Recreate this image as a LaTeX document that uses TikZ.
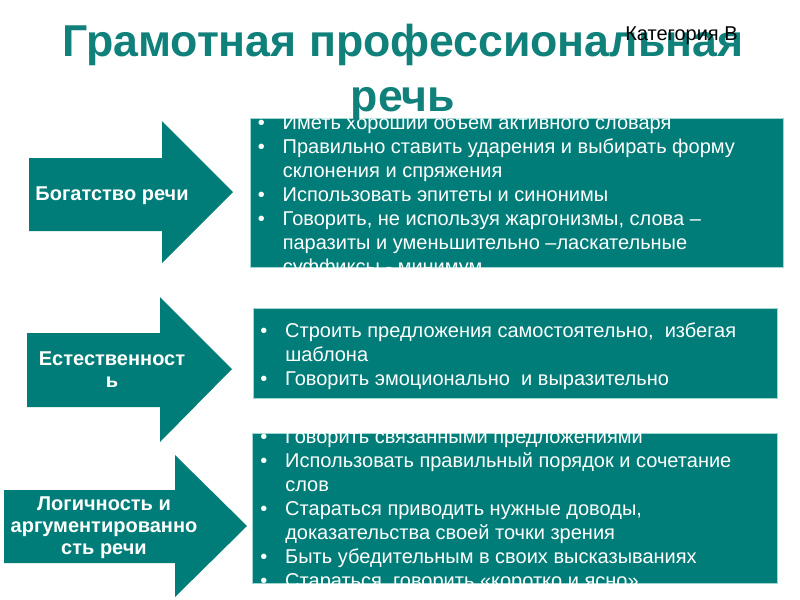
\documentclass[tikz,border=0pt]{standalone}
\usepackage{fontspec}
\setmainfont{Liberation Sans}
\usepackage{tikz}

\definecolor{tealfill}{RGB}{0,125,120}
\definecolor{tealtitle}{RGB}{16,128,122}
\definecolor{tealedge}{RGB}{160,214,210}

\newcommand{\bul}{\makebox[18.75pt][l]{\textbullet}}
\newcommand{\nobul}{\hspace*{18.75pt}}
\newcommand{\topln}[1]{\rule{0pt}{#1}}

\tikzset{
  box/.style={fill=tealfill, draw=tealedge, line width=0.75pt},
  arrowshape/.style={fill=tealfill},
  itemtext/.style={text=white, font=\fontsize{15}{18}\selectfont},
  arrowtext/.style={text=white, font=\bfseries\fontsize{15}{16.5}\selectfont}
}

\begin{document}
\begin{tikzpicture}[x=0.75pt,y=0.75pt,yscale=-1,xscale=1]
\useasboundingbox (0,0) rectangle (800,600);

%Shape: Right Arrow
\fill [arrowshape] (29,158) -- (162,158) -- (162,121) -- (233,192) -- (162,263) -- (162,231) -- (29,231) -- cycle ;
%Shape: Right Arrow
\fill [arrowshape] (27,333) -- (160,333) -- (160,297) -- (232,369) -- (160,442) -- (160,407) -- (27,407) -- cycle ;
%Shape: Right Arrow
\fill [arrowshape] (4,490) -- (175,490) -- (175,455) -- (247,526) -- (175,597) -- (175,563) -- (4,563) -- cycle ;

%Shape: Rectangle
\draw [box] (250,118) rectangle (783,267) ;
%Shape: Rectangle
\draw [box] (253,308) rectangle (777,398) ;
%Shape: Rectangle
\draw [box] (252,433) rectangle (777,583) ;

% Text Node
\draw (112,200) node [anchor=base] [inner sep=0.75pt] [arrowtext] (wealth) {Богатство речи};
% Text Node
\draw (112,344) node [anchor=north] [inner sep=0.75pt] [arrowtext] [align=center] (nature) {\topln{15pt}Естественност\\ь};
% Text Node
\draw (104,489) node [anchor=north] [inner sep=0.75pt] [arrowtext] [align=center] (logic) {\topln{15pt}Логичность и\\аргументированно\\сть речи};

% Text Node
\begin{scope}
\clip (250,118) rectangle (783,267);
\draw (256.5,108) node [anchor=north west] [inner sep=0.75pt] [itemtext] [align=left] (wealthlist) {\topln{15pt}\bul Иметь хороший объем активного словаря\\\bul Правильно ставить ударения и выбирать форму\\\nobul склонения и спряжения\\\bul Использовать эпитеты и синонимы\\\bul Говорить, не используя жаргонизмы, слова –\\\nobul паразиты и уменьшительно –ласкательные\\\nobul суффиксы - минимум};
\end{scope}
% Text Node
\begin{scope}
\clip (253,308) rectangle (777,398);
\draw (259,316) node [anchor=north west] [inner sep=0.75pt] [itemtext] [align=left] (naturelist) {\topln{15pt}\bul Строить предложения самостоятельно,\ \ избегая\\\nobul шаблона\\\bul Говорить эмоционально\ \ и выразительно};
\end{scope}
% Text Node
\begin{scope}
\clip (252,433) rectangle (777,583);
\draw (259,422) node [anchor=north west] [inner sep=0.75pt] [itemtext] [align=left] (logiclist) {\topln{15pt}\bul Говорить связанными предложениями\\\bul Использовать правильный порядок и сочетание\\\nobul слов\\\bul Стараться приводить нужные доводы,\\\nobul доказательства своей точки зрения\\\bul Быть убедительным в своих высказываниях\\\bul Стараться\ \ говорить «коротко и ясно»};
\end{scope}

% Text Node
\draw (403,10.5) node [anchor=north] [inner sep=0.75pt] [text=tealtitle] [font=\bfseries\fontsize{33.5}{41}\selectfont] [align=center] (title) {\topln{33.5pt}Грамотная профессиональная\\речь};
% Text Node
\draw (624,40) node [anchor=base west] [inner sep=0.75pt] [font=\fontsize{15}{18}\selectfont] (category) {Категория В};

\end{tikzpicture}
\end{document}
